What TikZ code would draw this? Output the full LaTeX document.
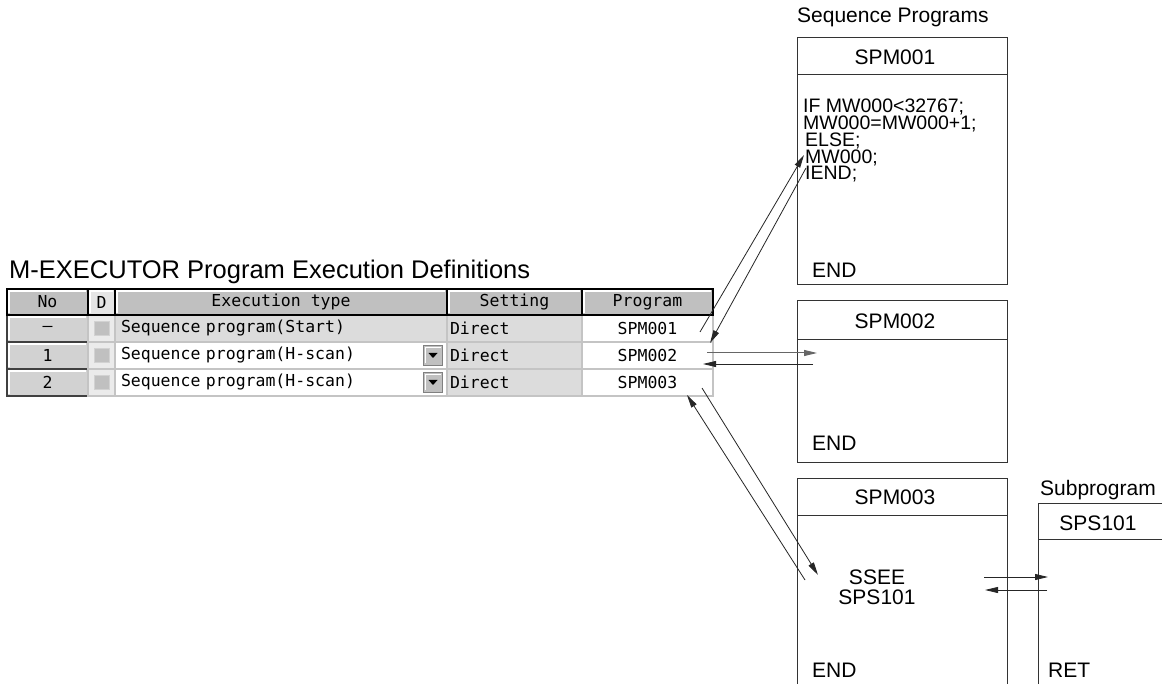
\documentclass[tikz,border=0pt]{standalone}
\usepackage{fontspec}
\setmainfont{Liberation Sans}
\newfontfamily\monofont{DejaVu Sans Mono}
\usetikzlibrary{arrows.meta,positioning,calc}
\definecolor{hdrgray}{HTML}{C0C0C0}
\definecolor{rogray}{HTML}{DCDCDC}
\definecolor{gridgray}{HTML}{C4C4C4}
\definecolor{nogray}{HTML}{D2D2D2}
\newcommand{\tabsize}{\fontsize{16.5}{16.5}\selectfont}
\newcommand{\lblsize}{\fontsize{21}{21}\selectfont}
\newcommand{\codesize}{\fontsize{19.5}{19.5}\selectfont}

\begin{document}
\begin{tikzpicture}[x=1pt, y=-1pt, >={Triangle[length=13pt, width=6pt]}]
  \tikzset{bevel/.style={path picture={
             \draw[white, line width=1.5pt]
               ([shift={(2pt,2pt)}]path picture bounding box.south west) |-
               ([shift={(-2pt,-2pt)}]path picture bounding box.north east);}},
           hdr/.style={draw=black, line width=1.6pt, fill=#1, bevel,
                       minimum height=26pt, inner sep=0pt, font=\monofont\tabsize},
           hdr/.default=hdrgray,
           cell/.style={draw=gridgray, line width=1.4pt, fill=#1, minimum height=27pt,
                        inner sep=0pt, font=\monofont\tabsize},
           nocell/.style={draw=black!75, line width=1.4pt, fill=nogray, bevel,
                          minimum width=81pt, minimum height=27pt, inner sep=0pt,
                          font=\monofont\tabsize},
           chk/.style={draw=gray!35, line width=1pt, fill=hdrgray, minimum width=15pt,
                       minimum height=14pt, inner sep=0pt},
           ddbtn/.style={draw=gray, line width=0.8pt, fill=hdrgray, bevel,
                         minimum width=19pt, minimum height=20pt, inner sep=0pt},
           lbl/.style={font=\lblsize, inner sep=0pt},
           codeline/.style={font=\codesize, inner sep=0pt, anchor=base west},
           progbox/.style={draw=black!80, line width=0.9pt},
           link/.style={->, line width=0.8pt, black!85}}

  \fill[white] (0,0) rectangle (1162,684);
  \useasboundingbox (0,0) rectangle (1162,684);

  % definitions table
  \node[font=\fontsize{25.5}{25.5}\selectfont, anchor=base west, inner sep=0pt]
       (title) at (9,279) {M-EXECUTOR Program Execution Definitions};

  \foreach \r/\y/\no/\prog in {1/328.5/–/SPM001, 2/355.5/1/SPM002, 3/382.5/2/SPM003} {
    \node[nocell] (no\r) at (47.5,\y) {\no};
    \node[cell=white!92!black, minimum width=27pt] (d\r) at (101.5,\y) {};
    \node[chk] (chk\r) at (d\r) {};
    \node[cell=rogray, minimum width=135pt, text width=129pt, inner xsep=3pt,
          align=left] (set\r) at (514.5,\y) {Direct};
    \node[cell=white, minimum width=131pt] (prog\r) at (647.5,\y) {\prog};
  }
  \node[cell=rogray, text width=320pt, inner xsep=6pt, align=left]
       (type1) at (281,328.5) {Sequence program(Start)};
  \node[cell=white, text width=320pt, inner xsep=6pt, align=left]
       (type2) at (281,355.5) {Sequence program(H-scan)};
  \node[cell=white, text width=320pt, inner xsep=6pt, align=left]
       (type3) at (281,382.5) {Sequence program(H-scan)};
  \node[ddbtn] (dd2) at (433,355.5) {};
  \node[ddbtn] (dd3) at (433,382.5) {};
  \fill (dd2.center) ++(-4.5,-2.5) -- ++(9,0) -- ++(-4.5,5) -- cycle;
  \fill (dd3.center) ++(-4.5,-2.5) -- ++(9,0) -- ++(-4.5,5) -- cycle;

  \node[hdr, minimum width=81pt]  (hno)   at (47.5,302)  {No};
  \node[hdr=white!90!black, minimum width=27pt] (hd) at (101.5,302) {D};
  \node[hdr, minimum width=332pt] (htype) at (281,302)   {Execution type};
  \node[hdr, minimum width=135pt] (hset)  at (514.5,302) {Setting};
  \node[hdr, minimum width=131pt] (hprog) at (647.5,302) {Program};

  % sequence programs
  \node[lbl, anchor=base west] (seqlbl) at (797,22.5) {Sequence Programs};
  \draw[progbox] (797,37) rectangle (1007,284) (797,74) -- (1007,74);
  \node[lbl] (spm1) at (895,57) {SPM001};
  \node[codeline] (ln1) at (803,113) {IF MW000<32767;};
  \node[codeline] (ln2) at (803,130) {MW000=MW000+1;};
  \node[codeline] (ln3) at (805,147) {ELSE;};
  \node[codeline] (ln4) at (805,163.5) {MW000;};
  \node[codeline] (ln5) at (805,180) {IEND;};
  \node[codeline, font=\lblsize] (end1) at (812,277.5) {END};

  \draw[progbox] (797,300) rectangle (1007,462) (797,339) -- (1007,339);
  \node[lbl] (spm2) at (895,321) {SPM002};
  \node[codeline, font=\lblsize] (end2) at (812,450.5) {END};

  \draw[progbox] (797,684) |- (1007,478) -- (1007,684) (797,515) -- (1007,515);
  \node[lbl] (spm3) at (895,497) {SPM003};
  \node[lbl] (ssee) at (877,577) {SSEE};
  \node[lbl] (sscall) at (877,597) {SPS101};
  \node[codeline, font=\lblsize] (end3) at (812,677.5) {END};

  % subprogram
  \node[lbl, anchor=base west] (sublbl) at (1040,495.5) {Subprogram};
  \draw[progbox] (1038,684) |- (1162,503) (1038,539) -- (1162,539);
  \node[lbl] (sps) at (1098,523) {SPS101};
  \node[codeline, font=\lblsize] (ret) at (1048,677.5) {RET};

  % calls and returns
  \coordinate (go1)   at (700,332);
  \coordinate (in1)   at (804,155);
  \coordinate (out1)  at (806,168);
  \coordinate (back1) at (710,343);
  \coordinate (go2)   at (707,353);
  \coordinate (in2)   at (817,353);
  \coordinate (out2)  at (813,364);
  \coordinate (back2) at (703,364);
  \coordinate (go3)   at (702,388);
  \coordinate (in3)   at (818,575);
  \coordinate (out3)  at (805,580);
  \coordinate (back3) at (687,395);
  \coordinate (go4)   at (984,577);
  \coordinate (in4)   at (1048,577);
  \coordinate (out4)  at (1047,590);
  \coordinate (back4) at (985,590);
  \draw[link] (go1) -- (in1);
  \draw[link] (out1) -- (back1);
  \draw[link, black!60, line width=1pt] (go2) -- (in2);
  \draw[link] (out2) -- (back2);
  \draw[link] (go3) -- (in3);
  \draw[link] (out3) -- (back3);
  \draw[link] (go4) -- (in4);
  \draw[link] (out4) -- (back4);
\end{tikzpicture}
\end{document}
